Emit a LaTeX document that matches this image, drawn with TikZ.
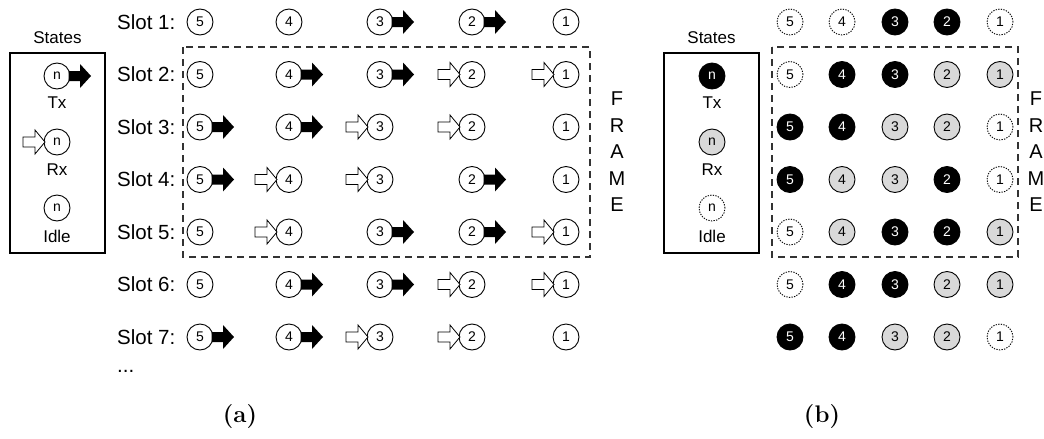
\documentclass[tikz,border=0pt]{standalone}
\usepackage{fontspec}
\setsansfont{Liberation Sans}
\definecolor{rxgray}{HTML}{D9D9D9}
\definecolor{framegray}{HTML}{333333}

% arrows attached to a slot circle
\newcommand\arrT[1]{%
  \begin{scope}[shift={(#1.center)}]
    \fill[black] (11.5,5) -- (23,5) -- (23,12) -- (34,0) -- (23,-12) -- (23,-5) -- (11.5,-5) -- cycle;
  \end{scope}}
\newcommand\arrR[1]{%
  \begin{scope}[shift={(#1.center)}]
    \draw[line width=0.8pt, fill=white, line join=miter] (-12,0) -- (-22,-12) -- (-22,-5) -- (-34,-5) -- (-34,5) -- (-22,5) -- (-22,12) -- cycle;
  \end{scope}}
\newcommand\arrI[1]{}

\tikzset{
  x=1pt, y=-1pt,
  every node/.style={inner sep=0pt, font=\sffamily},
  slotlbl/.style={anchor=west, font=\sffamily\fontsize{20.5}{24}\selectfont},
  legtext/.style={font=\sffamily\fontsize{17}{20}\selectfont},
  bigtext/.style={font=\sffamily\fontsize{20}{26.5}\selectfont, align=center},
  captext/.style={font=\rmfamily\bfseries\fontsize{24}{28}\selectfont},
  legbox/.style={draw, line width=1.3pt, minimum width=95pt, minimum height=200pt},
  framebox/.style={draw=framegray, line width=1.2pt, dash pattern=on 7pt off 5pt},
  numcirc/.style={circle, minimum size=26pt, line width=0.9pt, draw, fill=white,
                  font=\sffamily\fontsize{14}{16}\selectfont},
  bI/.style={numcirc, dash pattern=on 1.3pt off 1.3pt},
  bT/.style={numcirc, fill=black, text=white},
  bR/.style={numcirc, fill=rxgray},
}

\begin{document}
\begin{tikzpicture}
\useasboundingbox (0,0) rectangle (1044,439);

% ---------------- (a) ----------------
\node[legtext] (statesA) at (57.5,38) {States};
\node[legbox] (boxA) at (57.5,153) {};
\node[numcirc] (legTxA) at (57,76) {n};
\arrT{legTxA}
\node[legtext] (lblTxA) at (57,103) {Tx};
\node[numcirc] (legRxA) at (57,142) {n};
\arrR{legRxA}
\node[legtext] (lblRxA) at (57,170) {Rx};
\node[numcirc] (legIdA) at (57,208) {n};
\node[legtext] (lblIdA) at (57,236) {Idle};

\draw[framebox] (183,47) rectangle (590,257);
\node[bigtext] (frameA) at (617,152) {F\\R\\A\\M\\E};

\foreach \row/\sts in {1/{I,I,T,T,I},2/{I,T,T,R,R},3/{T,T,R,R,I},4/{T,R,R,T,I},
                      5/{I,R,T,T,R},6/{I,T,T,R,R},7/{T,T,R,R,I}} {
  \pgfmathsetmacro\yy{22+52.5*(\row-1)}
  \node[slotlbl] (slot\row) at (117,\yy) {Slot \row:};
  \foreach \st [count=\c] in \sts {
    \pgfmathsetmacro\xx{{200,289,380,472,566}[\c-1]}
    \pgfmathtruncatemacro\dg{6-\c}
    \node[numcirc] (a-\row-\c) at (\xx,\yy) {\dg};
    \csname arr\st\endcsname{a-\row-\c}
  }
}
\node[slotlbl, anchor=base west] (dotsA) at (117,372) {...};
\node[captext] (capA) at (240,417) {(a)};

% ---------------- (b) ----------------
\node[legtext] (statesB) at (711.5,38) {States};
\node[legbox] (boxB) at (711.5,153) {};
\node[bT] (legTxB) at (712,76) {n};
\node[legtext] (lblTxB) at (712,103) {Tx};
\node[bR] (legRxB) at (712,142) {n};
\node[legtext] (lblRxB) at (712,170) {Rx};
\node[bI] (legIdB) at (712,208) {n};
\node[legtext] (lblIdB) at (712,236) {Idle};

\draw[framebox] (772,47) rectangle (1018,257);
\node[bigtext] (frameB) at (1036,152) {F\\R\\A\\M\\E};

\foreach \row/\sts in {1/{I,I,T,T,I},2/{I,T,T,R,R},3/{T,T,R,R,I},4/{T,R,R,T,I},
                      5/{I,R,T,T,R},6/{I,T,T,R,R},7/{T,T,R,R,I}} {
  \pgfmathsetmacro\yy{22+52.5*(\row-1)}
  \foreach \st [count=\c] in \sts {
    \pgfmathsetmacro\xx{{790,842,895,947,1000}[\c-1]}
    \pgfmathtruncatemacro\dg{6-\c}
    \node[b\st] (b-\row-\c) at (\xx,\yy) {\dg};
  }
}
\node[captext] (capB) at (822,417) {(b)};
\end{tikzpicture}
\end{document}
